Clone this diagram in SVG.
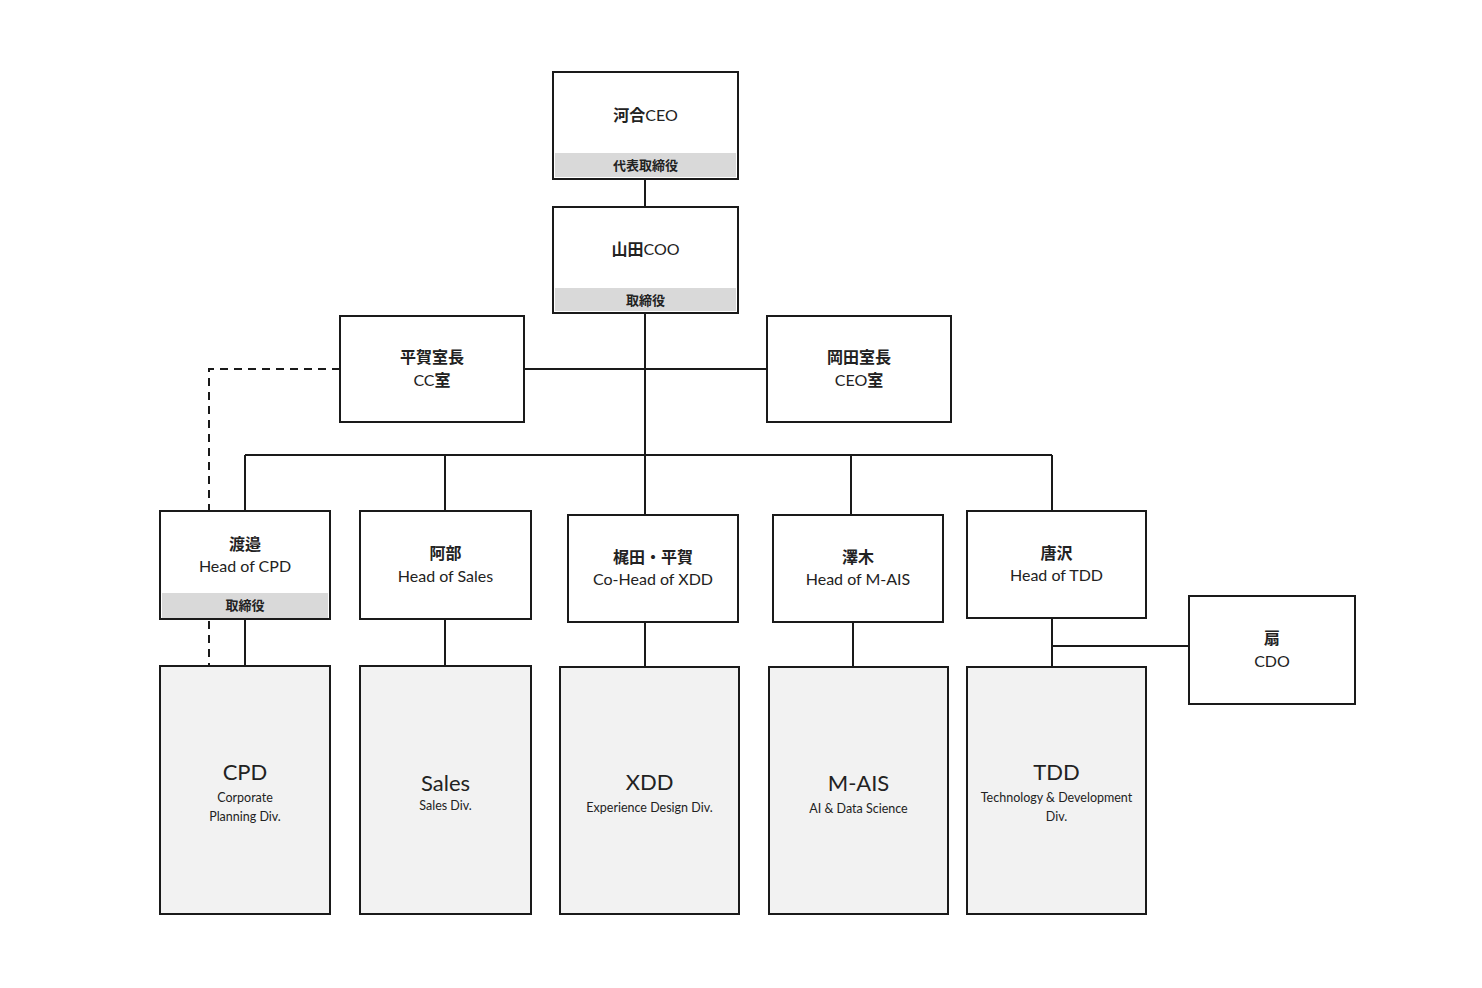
<svg xmlns="http://www.w3.org/2000/svg" width="1482" height="988" viewBox="0 0 1482 988">
<style>
.box{fill:#fff;stroke:#1a1a1a;stroke-width:2}
.div{fill:#f2f2f2;stroke:#1a1a1a;stroke-width:2}
.band{fill:#d9d9d9}
.ln{stroke:#1a1a1a;stroke-width:2;fill:none}
.dash{stroke:#1a1a1a;stroke-width:2;fill:none;stroke-dasharray:8 6}
text{font-family:Lato,"Noto Sans CJK JP",sans-serif;fill:#222;text-anchor:middle}
.jp{font-size:16px;font-weight:bold}
.r{font-weight:normal}
.en{font-size:16px}
.sm{font-size:13px;font-weight:bold}
.t{font-size:22px}
.s{font-size:12.5px}
</style>
<rect width="1482" height="988" fill="#fff"/>
<g id="connectors">
<line class="ln" x1="645" y1="179" x2="645" y2="207"/>
<line class="ln" x1="645" y1="313" x2="645" y2="516"/>
<line class="ln" x1="524" y1="369" x2="767" y2="369"/>
<line class="ln" x1="245" y1="455" x2="1052" y2="455"/>
<line class="ln" x1="245" y1="455" x2="245" y2="511"/>
<line class="ln" x1="445" y1="455" x2="445" y2="511"/>
<line class="ln" x1="851" y1="455" x2="851" y2="515"/>
<line class="ln" x1="1052" y1="455" x2="1052" y2="511"/>
<line class="ln" x1="245" y1="619" x2="245" y2="666"/>
<line class="ln" x1="445" y1="619" x2="445" y2="666"/>
<line class="ln" x1="645" y1="622" x2="645" y2="667"/>
<line class="ln" x1="853" y1="622" x2="853" y2="667"/>
<line class="ln" x1="1052" y1="618" x2="1052" y2="667"/>
<line class="ln" x1="1052" y1="646" x2="1189" y2="646"/>
<polyline class="dash" points="340,369 209,369 209,511"/>
<line class="dash" x1="209" y1="621" x2="209" y2="666"/>
</g>
<g id="ceo">
<rect class="box" x="553" y="72" width="185" height="107"/>
<rect class="band" x="555" y="153" width="181" height="24"/>
<text class="jp" x="645.5" y="121">河合<tspan class="r">CEO</tspan></text>
<text class="sm" x="645.5" y="170">代表取締役</text>
</g>
<g id="coo">
<rect class="box" x="553" y="207" width="185" height="106"/>
<rect class="band" x="555" y="288" width="181" height="23"/>
<text class="jp" x="645.5" y="255">山田<tspan class="r">COO</tspan></text>
<text class="sm" x="645.5" y="305">取締役</text>
</g>
<g id="hiraga">
<rect class="box" x="340" y="316" width="184" height="106"/>
<text class="jp" x="432" y="363">平賀室長</text>
<text class="en" x="432" y="386">CC<tspan font-weight="bold">室</tspan></text>
</g>
<g id="okada">
<rect class="box" x="767" y="316" width="184" height="106"/>
<text class="jp" x="859" y="363">岡田室長</text>
<text class="en" x="859" y="386">CEO<tspan font-weight="bold">室</tspan></text>
</g>
<g id="watanabe">
<rect class="box" x="160" y="511" width="170" height="108"/>
<rect class="band" x="162" y="593" width="166" height="25"/>
<text class="jp" x="245" y="550">渡邉</text>
<text class="en" x="245" y="572">Head of CPD</text>
<text class="sm" x="245" y="610">取締役</text>
</g>
<g id="abe">
<rect class="box" x="360" y="511" width="171" height="108"/>
<text class="jp" x="445.5" y="559">阿部</text>
<text class="en" x="445.5" y="582">Head of Sales</text>
</g>
<g id="kajita">
<rect class="box" x="568" y="515" width="170" height="107"/>
<text class="jp" x="653" y="563">梶田・平賀</text>
<text class="en" x="653" y="585">Co-Head of XDD</text>
</g>
<g id="sawaki">
<rect class="box" x="773" y="515" width="170" height="107"/>
<text class="jp" x="858" y="563">澤木</text>
<text class="en" x="858" y="585">Head of M-AIS</text>
</g>
<g id="karasawa">
<rect class="box" x="967" y="511" width="179" height="107"/>
<text class="jp" x="1056.5" y="559">唐沢</text>
<text class="en" x="1056.5" y="581">Head of TDD</text>
</g>
<g id="ogi">
<rect class="box" x="1189" y="596" width="166" height="108"/>
<text class="jp" x="1272" y="644">扇</text>
<text class="en" x="1272" y="667">CDO</text>
</g>
<g id="cpd">
<rect class="div" x="160" y="666" width="170" height="248"/>
<text class="t" x="245" y="780">CPD</text>
<text class="s" x="245" y="802">Corporate</text>
<text class="s" x="245" y="821">Planning Div.</text>
</g>
<g id="sales">
<rect class="div" x="360" y="666" width="171" height="248"/>
<text class="t" x="445.5" y="791">Sales</text>
<text class="s" x="445.5" y="810">Sales Div.</text>
</g>
<g id="xdd">
<rect class="div" x="560" y="667" width="179" height="247"/>
<text class="t" x="649.5" y="790">XDD</text>
<text class="s" x="649.5" y="812">Experience Design Div.</text>
</g>
<g id="mais">
<rect class="div" x="769" y="667" width="179" height="247"/>
<text class="t" x="858.5" y="791">M-AIS</text>
<text class="s" x="858.5" y="813">AI &amp; Data Science</text>
</g>
<g id="tdd">
<rect class="div" x="967" y="667" width="179" height="247"/>
<text class="t" x="1056.5" y="780">TDD</text>
<text class="s" x="1056.5" y="802">Technology &amp; Development</text>
<text class="s" x="1056.5" y="821">Div.</text>
</g>
</svg>
